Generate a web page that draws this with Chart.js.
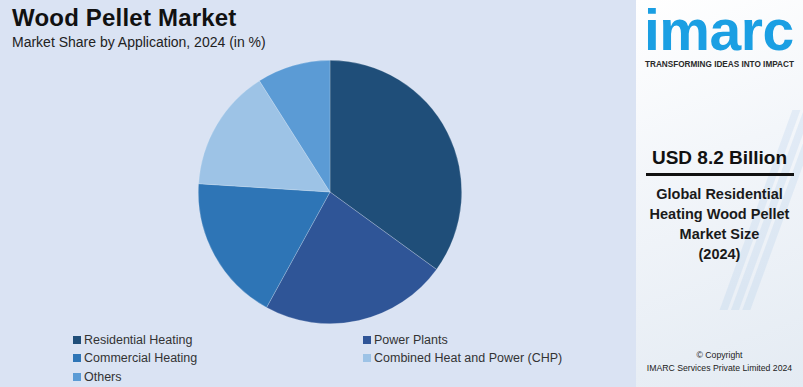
<!DOCTYPE html>
<html>
<head>
<meta charset="utf-8">
<script src="https://cdn.jsdelivr.net/npm/chart.js@4.4.1/dist/chart.umd.min.js"></script>
<style>
  html,body{margin:0;padding:0;}
  body{width:803px;height:387px;position:relative;overflow:hidden;background:#dae3f3;font-family:"Liberation Sans",Arial,sans-serif;}
  #title{position:absolute;left:12px;top:4px;font-size:24px;font-weight:bold;color:#111;letter-spacing:0.2px;}
  #subtitle{position:absolute;left:12px;top:34px;font-size:14px;color:#222;}
  #chartWrap{position:absolute;left:198px;top:60px;width:264px;height:264px;}
  #legend{position:absolute;left:73px;top:333px;width:560px;}
  .li{position:absolute;font-size:12.5px;color:#333;white-space:nowrap;}
  .li span.sw{display:inline-block;width:8px;height:8px;margin-right:3px;vertical-align:0px;}
  #panel{position:absolute;left:636px;top:0;width:167px;height:387px;
    background:linear-gradient(160deg,#ffffff 0%,#f3f6fa 40%,#e4ebf3 100%);overflow:hidden;}
  #logo{position:absolute;left:8px;top:-3px;font-size:57px;font-weight:bold;color:#1a9fe3;letter-spacing:-0.5px;font-family:"Liberation Sans",Arial,sans-serif;}
  #tag{position:absolute;left:9px;top:60px;font-size:8.2px;font-weight:bold;color:#2a2a2a;white-space:nowrap;}
  #usd{position:absolute;left:0;width:167px;top:147px;text-align:center;font-size:19px;font-weight:bold;color:#111;}
  #rule{position:absolute;left:10px;top:173px;width:148px;height:3px;background:#111;}
  #desc{position:absolute;left:0;width:167px;top:184px;text-align:center;font-size:14.5px;font-weight:bold;color:#1a1a1a;line-height:20px;}
  #copy{position:absolute;left:0;width:167px;top:349px;text-align:center;font-size:8.7px;color:#222;line-height:13px;white-space:nowrap;}
  .stripe{position:absolute;background:rgba(150,190,225,0.18);transform:skewX(-20deg);}
</style>
</head>
<body>
<div id="title">Wood Pellet Market</div>
<div id="subtitle">Market Share by Application, 2024 (in %)</div>
<div id="chartWrap"><canvas id="c" width="264" height="264"></canvas></div>
<div id="legend"></div>
<div id="panel">
  <div class="stripe" style="left:120px;top:110px;width:8px;height:200px;"></div>
  <div class="stripe" style="left:135px;top:90px;width:8px;height:220px;"></div>
  <div class="stripe" style="left:150px;top:70px;width:8px;height:240px;"></div>
  <div id="logo">imarc</div>
  <div id="tag">TRANSFORMING IDEAS INTO IMPACT</div>
  <div id="usd">USD 8.2 Billion</div>
  <div id="rule"></div>
  <div id="desc">Global Residential<br>Heating Wood Pellet<br>Market Size<br>(2024)</div>
  <div id="copy">© Copyright<br>IMARC Services Private Limited 2024</div>
</div>
<script>
const categories = ["Residential Heating","Power Plants","Commercial Heating","Combined Heat and Power (CHP)","Others"];
const shares = [35, 23, 18, 15, 9];
const colors = ["#1f4e79","#2f5597","#2e75b6","#9dc3e6","#5b9bd5"];

// HTML legend built from the arrays (two columns)
const legend = document.getElementById('legend');
const colX = [0, 290];
const rowY = [0, 18, 37];
categories.forEach((name,i)=>{
  const d = document.createElement('div');
  d.className='li';
  d.style.left = colX[i%2]+'px';
  d.style.top = rowY[Math.floor(i/2)]+'px';
  d.innerHTML = '<span class="sw" style="background:'+colors[i]+'"></span>'+name;
  legend.appendChild(d);
});

new Chart(document.getElementById('c'), {
  type: 'pie',
  data: {
    labels: categories,
    datasets: [{
      data: shares,
      backgroundColor: colors,
      borderColor: 'rgba(255,255,255,0.35)',
      borderWidth: 0.6,
      hoverOffset: 0
    }]
  },
  options: {
    responsive: false,
    animation: false,
    rotation: 0,
    layout: {padding: 0},
    plugins: {legend: {display: false}, tooltip: {enabled: false}}
  }
});
</script>
</body>
</html>
